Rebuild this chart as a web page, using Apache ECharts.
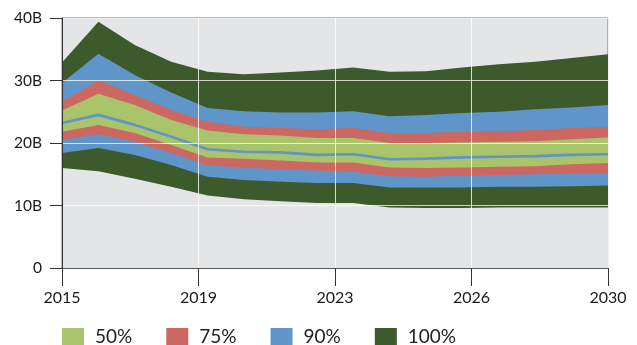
<!DOCTYPE html>
<html>
<head>
<meta charset="utf-8">
<script src="https://cdn.jsdelivr.net/npm/echarts@6/dist/echarts.min.js"></script>
<style>
  html, body { margin: 0; padding: 0; background: #ffffff; }
  #chart { width: 637px; height: 345px; }
</style>
</head>
<body>
<div id="chart"></div>
<script>
// Years on the horizontal axis
const years = [2015, 2016, 2017, 2018, 2019, 2020, 2021, 2022, 2023, 2024, 2025, 2026, 2027, 2028, 2029, 2030];

// Band bounds, in billions
const outerHigh = [32.9, 39.4, 35.7, 33.0, 31.4, 31.0, 31.3, 31.6, 32.1, 31.4, 31.5, 32.1, 32.6, 33.0, 33.6, 34.2];
const blueHigh  = [29.6, 34.3, 30.9, 28.1, 25.6, 25.1, 24.9, 24.9, 25.1, 24.3, 24.5, 24.8, 25.0, 25.4, 25.7, 26.1];
const redHigh   = [26.6, 30.0, 27.7, 25.3, 23.4, 22.6, 22.4, 22.2, 22.4, 21.6, 21.6, 21.8, 21.9, 22.1, 22.4, 22.6];
const greenHigh = [25.2, 27.9, 26.1, 23.7, 22.0, 21.4, 21.2, 20.8, 20.8, 20.0, 20.0, 20.1, 20.2, 20.3, 20.6, 20.9];
const median    = [23.2, 24.5, 22.9, 21.0, 19.0, 18.6, 18.5, 18.1, 18.2, 17.4, 17.5, 17.7, 17.8, 17.9, 18.1, 18.2];
const greenLow  = [21.8, 22.9, 21.6, 19.7, 17.7, 17.5, 17.2, 16.9, 16.9, 16.1, 16.0, 16.1, 16.2, 16.3, 16.6, 16.8];
const redLow    = [20.5, 21.4, 20.2, 18.4, 16.4, 16.1, 15.8, 15.6, 15.4, 14.7, 14.6, 14.8, 14.9, 15.0, 15.1, 15.2];
const blueLow   = [18.4, 19.2, 18.1, 16.5, 14.6, 14.1, 13.8, 13.6, 13.6, 12.9, 12.9, 12.9, 13.0, 13.0, 13.1, 13.2];
const outerLow  = [16.0, 15.5, 14.3, 13.0, 11.6, 11.0, 10.7, 10.4, 10.4,  9.7,  9.6,  9.6,  9.7,  9.7,  9.7,  9.7];

// Axis ticks
const yTicks = [0, 10, 20, 30, 40];
const yTickLabels = ['0', '10B', '20B', '30B', '40B'];
const legendNames = ['50%', '75%', '90%', '100%'];

const BG = '#e4e5e7';
const COLORS = {
  '50%': '#a9c46b',
  '75%': '#cd6762',
  '90%': '#5f95c8',
  '100%': '#3c5a2b'
};
const FONT = 'Lato, "Noto Sans", sans-serif';
const startYear = years[0];

const pts = arr => arr.map((v, i) => [years[i] - startYear, v]);

// Each boundary is filled down to the axis; painting from the top boundary
// downward leaves every band in its own colour.
const layers = [
  { name: '100%', data: outerHigh, fill: COLORS['100%'] },
  { name: '90%',  data: blueHigh,  fill: COLORS['90%'] },
  { name: '75%',  data: redHigh,   fill: COLORS['75%'] },
  { name: '50%',  data: greenHigh, fill: COLORS['50%'] },
  { name: '75%',  data: greenLow,  fill: COLORS['75%'] },
  { name: '90%',  data: redLow,    fill: COLORS['90%'] },
  { name: '100%', data: blueLow,   fill: COLORS['100%'] },
  { name: 'floor', data: outerLow, fill: BG }
];

const series = layers.map(l => ({
  name: l.name,
  type: 'line',
  data: pts(l.data),
  showSymbol: false,
  silent: true,
  lineStyle: { width: 0, opacity: 0 },
  areaStyle: { color: l.fill, opacity: 1, origin: 'start' },
  itemStyle: { color: l.fill },
  z: 2
}));
series.push({
  name: 'median',
  type: 'line',
  data: pts(median),
  showSymbol: false,
  silent: true,
  lineStyle: { width: 2.6, color: '#5f95c8' },
  z: 3
});

const chart = echarts.init(document.getElementById('chart'), null, { renderer: 'canvas' });
chart.setOption({
  animation: false,
  grid: {
    left: 62, right: 29, top: 18, bottom: 77,
    show: true,
    backgroundColor: BG,
    borderColor: '#7a7a7a',
    borderWidth: 1
  },
  legend: {
    left: 62,
    top: 327,
    padding: 0,
    itemWidth: 22,
    itemHeight: 17,
    itemGap: 34,
    icon: 'rect',
    data: legendNames.map(n => ({ name: n, itemStyle: { color: COLORS[n] } })),
    textStyle: { fontFamily: FONT, fontSize: 19, color: '#222', padding: [0, 0, 0, 6] },
    selectedMode: false
  },
  xAxis: {
    type: 'value',
    min: 0,
    max: years[years.length - 1] - startYear,
    interval: 3.75,
    z: 5,
    axisLine: { show: true, onZero: false, lineStyle: { color: '#555', width: 1 } },
    axisTick: { show: true, length: 18, lineStyle: { color: '#333', width: 1 } },
    axisLabel: {
      margin: 22,
      fontFamily: FONT, fontSize: 16, color: '#1a1a1a',
      formatter: v => String(Math.round(startYear + v))
    },
    splitLine: { show: true, lineStyle: { color: 'rgba(255,255,255,0.8)', width: 1 } }
  },
  yAxis: {
    type: 'value',
    min: 0,
    max: 40,
    interval: 10,
    z: 5,
    axisLine: { show: true, lineStyle: { color: '#333', width: 1 } },
    axisTick: { show: true, length: 12, lineStyle: { color: '#333', width: 1 } },
    axisLabel: {
      margin: 20,
      fontFamily: FONT, fontSize: 15.5, color: '#1a1a1a',
      formatter: v => yTickLabels[yTicks.indexOf(v)]
    },
    splitLine: { show: true, lineStyle: { color: 'rgba(255,255,255,0.75)', width: 1 } }
  },
  series: series
});
</script>
</body>
</html>
